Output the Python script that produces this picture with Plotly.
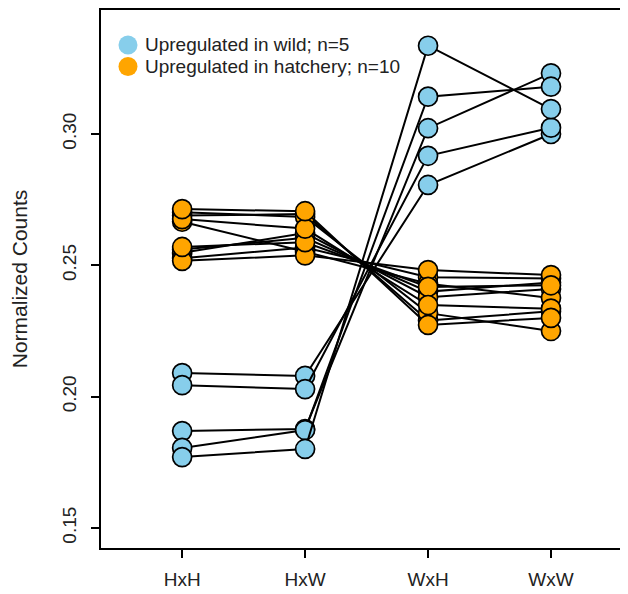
import plotly.graph_objects as go

categories = ["HxH", "HxW", "WxH", "WxW"]

# Upregulated in wild (n=5): values per cross type, one entry per gene
wild_HxH = [0.2090, 0.2044, 0.1869, 0.1805, 0.1770]
wild_HxW = [0.2079, 0.2029, 0.1877, 0.1873, 0.1801]
wild_WxH = [0.2806, 0.2917, 0.3022, 0.3142, 0.3336]
wild_WxW = [0.3000, 0.3024, 0.3231, 0.3180, 0.3095]

# Upregulated in hatchery (n=10)
hatch_HxH = [0.2690, 0.2702, 0.2560, 0.2548, 0.2527, 0.2666, 0.2517, 0.2570, 0.2676, 0.2714]
hatch_HxW = [0.2695, 0.2684, 0.2605, 0.2623, 0.2568, 0.2552, 0.2538, 0.2588, 0.2640, 0.2706]
hatch_WxH = [0.2290, 0.2318, 0.2400, 0.2379, 0.2455, 0.2430, 0.2482, 0.2418, 0.2349, 0.2273]
hatch_WxW = [0.2325, 0.2250, 0.2435, 0.2410, 0.2450, 0.2376, 0.2463, 0.2424, 0.2335, 0.2300]

yticks = [0.15, 0.20, 0.25, 0.30]
legend_labels = ["Upregulated in wild; n=5", "Upregulated in hatchery; n=10"]

BLUE = "#87CEEB"
ORANGE = "#FFA500"
FONT = "Liberation Sans, Arial, sans-serif"

xpos = [1, 2, 3, 4]
fig = go.Figure()

def add_group(h1, h2, h3, h4, color):
    for a, b, c, d in zip(h1, h2, h3, h4):
        fig.add_trace(go.Scatter(
            x=xpos, y=[a, b, c, d], mode="lines+markers",
            line=dict(color="black", width=2),
            marker=dict(size=19, color=color, line=dict(color="black", width=1.7)),
            showlegend=False, hoverinfo="skip"))

add_group(hatch_HxH, hatch_HxW, hatch_WxH, hatch_WxW, ORANGE)
add_group(wild_HxH, wild_HxW, wild_WxH, wild_WxW, BLUE)

# manual legend (top-left, inside the box)
for i, (lab, col) in enumerate(zip(legend_labels, [BLUE, ORANGE])):
    yp = 0.935 - i * 0.040
    fig.add_shape(type="circle", xref="paper", yref="paper",
                  xsizemode="pixel", ysizemode="pixel",
                  xanchor=0.0514, yanchor=yp, x0=-9.5, x1=9.5, y0=-9.5, y1=9.5,
                  fillcolor=col, line=dict(width=0))
    fig.add_annotation(xref="paper", yref="paper", x=0.080, y=yp,
                       text=lab, showarrow=False, xanchor="left", yanchor="middle",
                       font=dict(family=FONT, size=19, color="#222"))

fig.update_layout(
    width=620, height=586,
    margin=dict(l=93, r=2, t=2, b=46, autoexpand=False),
    plot_bgcolor="white", paper_bgcolor="white",
    font=dict(family=FONT, size=19, color="#222"),
    xaxis=dict(range=[0.34, 4.61], tickvals=xpos, ticktext=categories,
               showgrid=False, zeroline=False, showline=True, linecolor="black",
               linewidth=2, mirror=True, ticks="outside", ticklen=8, tickwidth=1.5,
               tickcolor="black", tickfont=dict(size=19), automargin=False,
               ticklabelstandoff=5, fixedrange=True),
    yaxis=dict(range=[0.1424, 0.3472], tickvals=yticks, tickformat=".2f",
               showgrid=False, zeroline=False, showline=True, linecolor="black",
               linewidth=2, mirror=True, ticks="outside", ticklen=8, tickwidth=1.5,
               tickcolor="black", tickangle=-90, tickfont=dict(size=19),
               automargin=False, ticklabelstandoff=7, fixedrange=True,
               title=dict(text="Normalized Counts", font=dict(size=21), standoff=26)),
)

fig.write_html("out.html")
